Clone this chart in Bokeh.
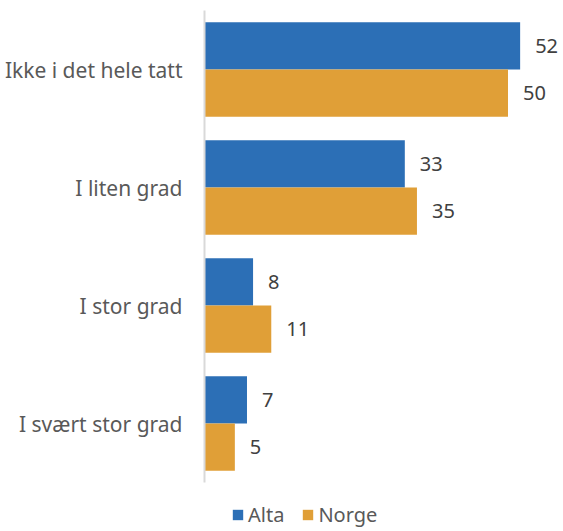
from bokeh.plotting import figure
from bokeh.models import ColumnDataSource, Range1d, Legend, LegendItem, FixedTicker
from bokeh.transform import dodge
from bokeh.core.properties import value
from bokeh.embed import file_html
from bokeh.resources import INLINE

categories = ["Ikke i det hele tatt", "I liten grad", "I stor grad", "I svært stor grad"]
alta = [52, 33, 8, 7]
norge = [50, 35, 11, 5]
series_names = ["Alta", "Norge"]
colors = ["#2C6FB6", "#E09F37"]

FONT = "Noto Sans"
n = len(categories)
ypos = [n - 0.5 - i for i in range(n)]  # first category on top

src = ColumnDataSource(dict(
    y=ypos, cat=categories, alta=alta, norge=norge,
    alta_txt=[str(v) for v in alta], norge_txt=[str(v) for v in norge],
))

W, H = 561, 529
LEFT = 204
PX_PER_CAT = 118.0
PX_PER_UNIT = 6.07
p = figure(width=W, height=H, output_backend="svg", toolbar_location=None,
           x_range=Range1d(0, (W - LEFT) / PX_PER_UNIT),
           y_range=Range1d(-47 / PX_PER_CAT, n + 10 / PX_PER_CAT),
           min_border_left=LEFT, min_border_right=0, min_border_top=0,
           min_border_bottom=0)
p.outline_line_color = None
p.xgrid.visible = False
p.ygrid.visible = False
p.xaxis.visible = False

ax = p.yaxis[0]
ax.ticker = FixedTicker(ticks=ypos)
ax.major_label_overrides = {y: c for y, c in zip(ypos, categories)}
ax.bounds = (0, n)
ax.axis_line_color = "#D9D9D9"
ax.axis_line_width = 2
ax.major_tick_line_color = None
ax.minor_tick_line_color = None
ax.major_label_standoff = 16
ax.major_label_text_font = FONT
ax.major_label_text_font_size = "21px"
ax.major_label_text_color = "#595959"

r1 = p.hbar(y=dodge("y", 0.2), left=0, right="alta", height=0.4,
            source=src, fill_color=colors[0], line_color=None)
r2 = p.hbar(y=dodge("y", -0.2), left=0, right="norge", height=0.4,
            source=src, fill_color=colors[1], line_color=None)

for col, txt, off in [("alta", "alta_txt", 0.2), ("norge", "norge_txt", -0.2)]:
    p.text(x=col, y=dodge("y", off), text=txt, source=src,
           x_offset=15, text_baseline="middle", text_align="left",
           text_font=value(FONT), text_font_size="20px", text_color="#404040")

legend = Legend(items=[LegendItem(label=series_names[0], renderers=[r1]),
                       LegendItem(label=series_names[1], renderers=[r2])],
                orientation="horizontal", location=(27, 1),
                padding=0, margin=0, spacing=17, label_standoff=4,
                glyph_width=13, glyph_height=13, label_height=16,
                label_text_font=FONT, label_text_font_size="20px",
                label_text_color="#595959", background_fill_alpha=0,
                border_line_color=None)
p.add_layout(legend, "center")

open("out.html", "w").write(file_html(p, INLINE))
